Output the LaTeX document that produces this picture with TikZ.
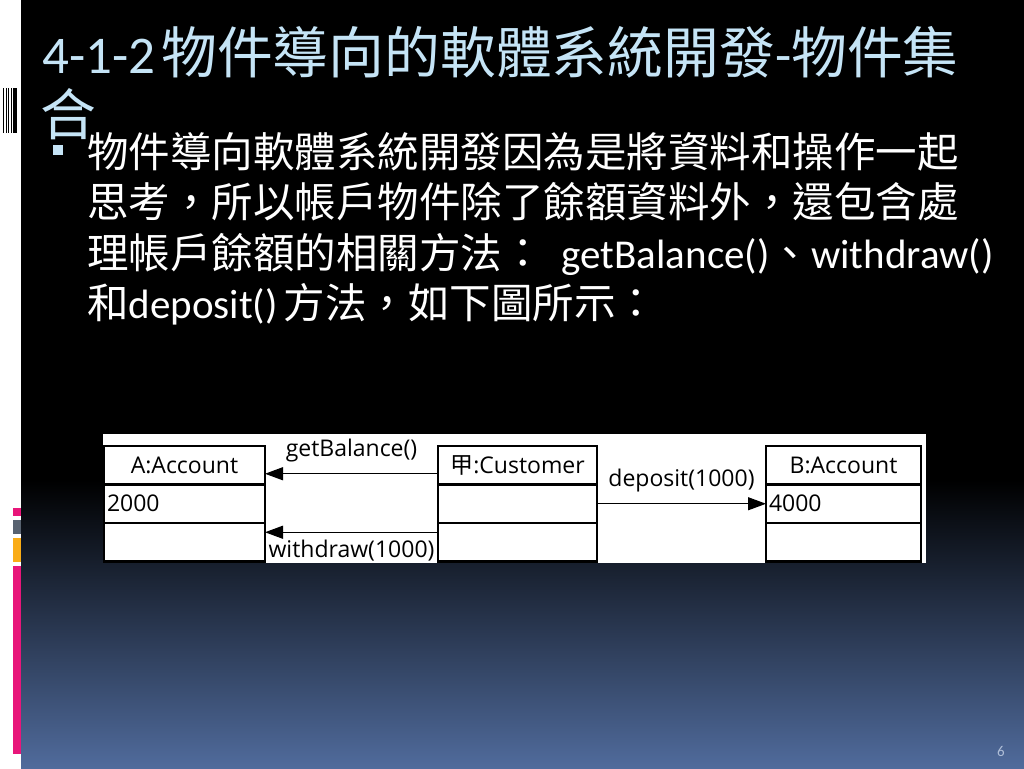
\documentclass[tikz,border=0pt]{standalone}
\usepackage{fontspec}
\setmainfont{Carlito}
\newfontfamily\cjk{Noto Sans CJK TC}
\newfontfamily\umlfont{Open Sans}
\usepackage{tikz}
\usetikzlibrary{positioning,arrows.meta}
\definecolor{titleblue}{RGB}{197,228,246}
\definecolor{slidebot}{RGB}{80,107,156}
\definecolor{pagegray}{RGB}{175,190,215}
\definecolor{barpink}{RGB}{232,22,122}
\definecolor{bargray}{RGB}{88,98,112}
\definecolor{barorange}{RGB}{250,172,22}
\newcommand\titlelat{\fontsize{53}{58}\selectfont}
\newcommand\titlezh[1]{{\cjk\fontsize{55.8}{60}\selectfont #1}}
\newcommand\zh[1]{{\cjk\fontsize{41.5}{48}\selectfont #1}}
\tikzset{cell/.style={draw, line width=2.3pt, outer sep=0pt, inner xsep=3pt, inner ysep=0pt,
  minimum height=38.5pt, text width=#1, align=center, font=\umlfont\fontsize{23}{26}\selectfont}}
\tikzset{msg/.style={-{Triangle[length=18pt,width=13pt]}, line width=1.2pt}}
\tikzset{lbl/.style={font=\umlfont\fontsize{23}{26}\selectfont}}
\tikzset{bodyline/.style={anchor=base west, inner sep=0pt, text=white, font=\fontsize{41}{46}\selectfont}}

\begin{document}
\begin{tikzpicture}[x=1pt,y=-1pt]
  \useasboundingbox (0,0) rectangle (1024,768);
  \fill[white] (0,0) rectangle (1024,768);
  \fill[black] (21,0) rectangle (1024,480);
  \shade[top color=black, bottom color=slidebot] (21,480) rectangle (1024,768);
  % left strip
  \foreach \x/\w in {3/1.3,5.5/1.2,7.8/1,10.5/1,12.7/4.6}
    \fill[black] (\x,88) rectangle ++(\w,45);
  \fill[barpink] (13,508) rectangle (21,516);
  \fill[bargray] (13,520) rectangle (21,534);
  \fill[barorange] (13,538) rectangle (21,562);
  \fill[barpink] (13,566) rectangle (21,754);
  % title and text
  \node[anchor=base west, inner sep=0pt, text=titleblue, font=\titlelat] (title) at (42,73.7)
    {4-1-2\hspace{6pt}\titlezh{物件導向的軟體系統開發}-\titlezh{物件集}};
  \node[anchor=base west, inner sep=0pt, text=titleblue] (title2) at (40,135.7) {\titlezh{合}};
  \fill[titleblue] (53,145) rectangle (63,155);
  \node[bodyline] (l1) at (87,167.3) {\zh{物件導向軟體系統開發因為是將資料和操作一起}};
  \node[bodyline] (l2) at (87,217.8) {\zh{思考，所以帳戶物件除了餘額資料外，還包含處}};
  \node[bodyline] (l3) at (87,268.3) {\zh{理帳戶餘額的相關方法：}\hspace{18pt}getBalance()\zh{、}withdraw()};
  \node[bodyline] (l4) at (87,318.8) {\zh{和}deposit()\hspace{6pt}\zh{方法，如下圖所示：}};
  \node[text=pagegray, font=\fontsize{15}{18}\selectfont] (pnum) at (1001,751) {6};
  % object diagram
  \fill[white] (103,434) rectangle (926,563);
  \node[cell=155pt] (A) at (184.5,465.25) {A:Account};
  \node[cell=155pt, align=left, below=0pt of A] (Aval) {2000};
  \node[cell=155pt, below=0pt of Aval] (Aops) {};
  \node[cell=153pt] (C) at (517.5,465.25) {{\cjk 甲}:Customer};
  \node[cell=153pt, below=0pt of C] (Cval) {};
  \node[cell=153pt, below=0pt of Cval] (Cops) {};
  \node[cell=149pt] (B) at (843.5,465.25) {B:Account};
  \node[cell=149pt, align=left, below=0pt of B] (Bval) {4000};
  \node[cell=149pt, below=0pt of Bval] (Bops) {};
  \draw[msg] ([yshift=-8.5pt]C.west) -- ([yshift=-8.5pt]A.east)
    node[lbl, midway, above=8pt] {getBalance()};
  \draw[msg] ([yshift=10pt]Cops.west) -- ([yshift=10pt]Aops.east)
    node[lbl, midway, below=4pt] {withdraw(1000)};
  \draw[msg] (Cval.east) -- (Bval.west)
    node[lbl, midway, above=8pt] {deposit(1000)};
\end{tikzpicture}
\end{document}
